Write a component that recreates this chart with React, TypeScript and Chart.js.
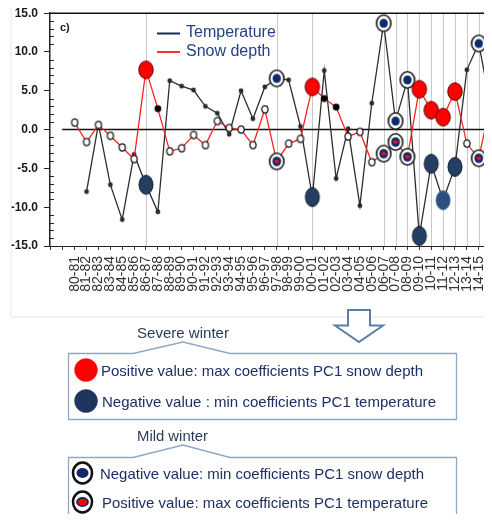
import React, { useEffect, useRef } from "react";
import { Chart, registerables } from "chart.js";

Chart.register(...registerables);

// ---------- data ----------
const seasons = [
  "80-81", "81-82", "82-83", "83-84", "84-85", "85-86", "86-87", "87-88", "88-89", "89-90",
  "90-91", "91-92", "92-93", "93-94", "94-95", "95-96", "96-97", "97-98", "98-99", "99-00",
  "00-01", "01-02", "02-03", "03-04", "04-05", "05-06", "06-07", "07-08", "08-09", "09-10",
  "10-11", "11-12", "12-13", "13-14", "14-15", "15-16",
];

const snowDepth = [
  0.9, -1.6, 0.6, -0.8, -2.3, -3.8, 7.7, 2.7, -2.8, -2.4,
  -0.7, -2.0, 1.1, 0.2, 0.0, -2.0, 2.6, -4.1, -1.8, -1.2,
  5.5, 4.0, 2.9, -0.9, -0.3, -4.2, -3.1, -1.6, -3.5, 5.2,
  2.5, 1.6, 4.9, -1.8, -3.7, 3.4,
];

const temperature = [
  null, -8.0, 0.7, -7.1, -11.6, -3.2, -7.1, -10.6, 6.3, 5.6,
  5.1, 3.0, 2.1, -0.6, 5.0, 1.4, 5.5, 6.6, 6.4, 0.4,
  -8.7, 7.6, -6.3, 0.1, -9.8, 3.4, 13.7, 1.1, 6.4, -13.7,
  -4.4, -9.1, -4.8, 7.7, 11.1, 3.0,
];

const severeSeasons = ["86-87", "00-01", "09-10", "10-11", "11-12", "12-13"];
const severeLightSeasons = ["11-12"];
const mildSeasons = ["97-98", "06-07", "07-08", "08-09", "14-15"];
const snowFilledSeasons = ["87-88", "01-02", "02-03"];
const gridSeasons = [
  "86-87", "97-98", "00-01", "06-07", "07-08", "08-09", "09-10",
  "10-11", "11-12", "12-13", "13-14", "14-15",
];

const yTicks = [
  -15, -14, -13, -12, -11, -10, -9, -8, -7, -6, -5, -4, -3, -2, -1, 0,
  1, 2, 3, 4, 5, 6, 7, 8, 9, 10, 11, 12, 13, 14, 15,
];
const yMajor = [-15, -10, -5, 0, 5, 10, 15];

const X_MIN = -2.075;
const X_MAX = 36.1;

// ---------- marker images ----------
function mk(w: number, h: number, draw: (g: CanvasRenderingContext2D, cx: number, cy: number) => void) {
  const c = document.createElement("canvas");
  c.width = w;
  c.height = h;
  const g = c.getContext("2d")!;
  draw(g, w / 2, h / 2);
  return c;
}
function ell(g: CanvasRenderingContext2D, cx: number, cy: number, rx: number, ry: number, fill?: string, stroke?: string, lw = 1) {
  g.beginPath();
  g.ellipse(cx, cy, rx, ry, 0, 0, Math.PI * 2);
  if (fill) { g.fillStyle = fill; g.fill(); }
  if (stroke) { g.strokeStyle = stroke; g.lineWidth = lw; g.stroke(); }
}

function buildMarkers() {
  return {
    open: mk(10, 11, (g, x, y) => ell(g, x, y, 3.1, 3.6, "#ffffff", "#1a1a1a", 1.3)),
    snowDot: mk(10, 10, (g, x, y) => ell(g, x, y, 3.4, 3.4, "#050505")),
    tempDot: mk(8, 8, (g, x, y) => ell(g, x, y, 2.4, 2.4, "#2b2b2b")),
    red: mk(18, 21, (g, x, y) => ell(g, x, y, 7.2, 8.8, "#ff0000", "#5a0000", 1)),
    blue: mk(18, 22, (g, x, y) => ell(g, x, y, 7.0, 9.4, "#243f63", "#111c30", 1)),
    blueLight: mk(18, 22, (g, x, y) => ell(g, x, y, 7.0, 9.4, "#2c4f7e", "#3f6592", 1)),
    mildSnow: mk(20, 22, (g, x, y) => {
      ell(g, x, y, 7.2, 8.2, "#ffffff", "#1a1a1a", 1.6);
      ell(g, x, y, 4.4, 4.8, "#0f2a6b");
      ell(g, x, y, 2.4, 1.8, "#ff1010");
    }),
    mildTemp: mk(20, 22, (g, x, y) => {
      ell(g, x, y, 7.2, 8.2, "#ffffff", "#1a1a1a", 1.6);
      ell(g, x, y, 4.2, 4.6, "#0f2a6b");
    }),
  };
}

const decorPlugin = {
  id: "decor",
  beforeDatasetsDraw(chart: any) {
    const { ctx, chartArea: a, scales } = chart;
    const x = scales.x;
    const y = scales.y;
    const line = (x1: number, y1: number, x2: number, y2: number) => {
      ctx.beginPath();
      ctx.moveTo(x1, y1);
      ctx.lineTo(x2, y2);
      ctx.stroke();
    };
    ctx.save();
    ctx.strokeStyle = "#c8c8c8";
    ctx.lineWidth = 1;
    gridSeasons.forEach((s) => {
      const px = Math.round(x.getPixelForValue(seasons.indexOf(s))) + 0.5;
      line(px, a.top, px, a.bottom);
    });
    ctx.strokeStyle = "#111111";
    ctx.lineWidth = 1.5;
    const y0 = y.getPixelForValue(0);
    line(x.getPixelForValue(-1.05), y0, a.right, y0);
    line(a.left, a.top, a.right, a.top);
    ctx.lineWidth = 1;
    ctx.strokeStyle = "#222222";
    yTicks.forEach((v) => {
      if (yMajor.includes(v)) return;
      const py = Math.round(y.getPixelForValue(v)) + 0.5;
      line(a.left, py, a.left + 4, py);
    });
    ctx.restore();
  },
  afterDraw(chart: any) {
    const { ctx } = chart;
    ctx.save();
    ctx.textBaseline = "middle";
    ctx.font = "bold 11px 'Liberation Sans'";
    ctx.fillStyle = "#1a1a1a";
    ctx.fillText("c)", 60, 28);
    ctx.lineWidth = 2;
    ctx.strokeStyle = "#142a5c";
    ctx.beginPath(); ctx.moveTo(157, 33.5); ctx.lineTo(180, 33.5); ctx.stroke();
    ctx.strokeStyle = "#ff2a2a";
    ctx.beginPath(); ctx.moveTo(157, 52); ctx.lineTo(180, 52); ctx.stroke();
    ctx.font = "16px 'Liberation Sans'";
    ctx.fillStyle = "#233f85";
    ctx.fillText("Temperature", 186, 33);
    ctx.fillText("Snow depth", 186, 52);
    ctx.restore();
  },
};

function ChartCanvas() {
  const ref = useRef<HTMLCanvasElement | null>(null);
  useEffect(() => {
    const m = buildMarkers();
    const snowStyles = seasons.map((s) => {
      if (severeSeasons.includes(s)) return m.red;
      if (mildSeasons.includes(s)) return m.mildSnow;
      if (snowFilledSeasons.includes(s)) return m.snowDot;
      return m.open;
    });
    const tempStyles = seasons.map((s) => {
      if (severeLightSeasons.includes(s)) return m.blueLight;
      if (severeSeasons.includes(s)) return m.blue;
      if (mildSeasons.includes(s)) return m.mildTemp;
      return m.tempDot;
    });
    const chart = new Chart(ref.current!, {
      type: "line",
      data: {
        datasets: [
          {
            label: "Snow depth",
            data: snowDepth.map((v, i) => ({ x: i, y: v })),
            borderColor: "#ff2020",
            borderWidth: 1.3,
            pointStyle: snowStyles as any,
            pointRadius: 5,
            tension: 0,
          },
          {
            label: "Temperature",
            data: temperature.map((v, i) => ({ x: i, y: v })) as any,
            borderColor: "#2e2e2e",
            borderWidth: 1.3,
            pointStyle: tempStyles as any,
            pointRadius: 5,
            tension: 0,
            spanGaps: false,
          },
        ],
      },
      options: {
        animation: false,
        responsive: false,
        devicePixelRatio: 1,
        layout: { padding: { top: 13, left: 0, right: 0, bottom: 0 } },
        plugins: { legend: { display: false }, tooltip: { enabled: false } },
        scales: {
          x: {
            type: "linear",
            min: X_MIN,
            max: X_MAX,
            afterBuildTicks: (s: any) => {
              const t = [];
              for (let i = -2; i < seasons.length; i++) t.push({ value: i });
              s.ticks = t;
            },
            afterFit: (s: any) => {
              s.height = 74;
              s.paddingLeft = 0;
              s.paddingRight = 0;
            },
            ticks: {
              autoSkip: false,
              minRotation: 90,
              maxRotation: 90,
              padding: 6,
              color: "#333333",
              font: { family: "'Liberation Sans'", size: 14 },
              callback: (v: any) => seasons[v as number] ?? "",
            },
            grid: { display: true, drawOnChartArea: false, tickLength: 4, color: "#333333" },
            border: { display: true, color: "#222222", width: 1 },
          },
          y: {
            type: "linear",
            min: -15,
            max: 15,
            afterBuildTicks: (s: any) => {
              s.ticks = yTicks.map((v) => ({ value: v }));
            },
            afterFit: (s: any) => {
              s.width = 50;
            },
            ticks: {
              autoSkip: false,
              padding: 6,
              color: "#1a1a1a",
              font: { family: "'Liberation Sans'", size: 12, weight: "bold" },
              callback: (v: any) => (yMajor.includes(v as number) ? (v as number).toFixed(1) : ""),
            },
            grid: {
              display: true,
              drawOnChartArea: false,
              tickLength: 6,
              color: (c: any) => (c.tick && yMajor.includes(c.tick.value) ? "#222222" : "rgba(0,0,0,0)"),
            },
            border: { display: true, color: "#222222", width: 1.5 },
          },
        },
      },
      plugins: [decorPlugin],
    });
    return () => chart.destroy();
  }, []);
  return (
    <canvas
      ref={ref}
      width={510}
      height={320}
      style={{ position: "absolute", left: 0, top: 0, width: 510, height: 320 }}
    />
  );
}

const navy = "#1f2f63";
const boxStroke = "#8ea7c7";
const font = "'Liberation Sans'";

function Annotations() {
  return (
    <svg
      width={492}
      height={522}
      style={{ position: "absolute", left: 0, top: 0, pointerEvents: "none" }}
    >
      {/* figure borders */}
      <path d="M11,0 V317 H492" fill="none" stroke="#e6e6e6" strokeWidth={1} />
      <path d="M0,83.5 H3.5 V411.5 H0" fill="none" stroke="#a9c1dc" strokeWidth={1.5} />
      {/* arrow */}
      <path
        d="M348,310 H370 V325.5 H383 L359,342 L335,325.5 H348 Z"
        fill="#ffffff"
        stroke="#5b7fa8"
        strokeWidth={2}
        strokeLinejoin="miter"
      />
      {/* severe box */}
      <text x={137} y={332} fontFamily={font} fontSize={15} fill="#2c3a58" dominantBaseline="central" textLength={92} lengthAdjust="spacingAndGlyphs">
        Severe winter
      </text>
      <path
        d="M68.5,353.5 H133 L183,342 L230,353.5 H456.5 V419.5 H68.5 Z"
        fill="#ffffff"
        stroke={boxStroke}
        strokeWidth={1.3}
      />
      <circle cx={86} cy={370} r={11.5} fill="#ff0000" stroke="#ff3030" strokeWidth={0.5} />
      <text x={101} y={370} fontFamily={font} fontSize={15} fill={navy} dominantBaseline="central" textLength={322} lengthAdjust="spacingAndGlyphs">
        Positive value: max coefficients PC1 snow depth
      </text>
      <circle cx={86} cy={401} r={11.5} fill="#1f3560" stroke="#2a4270" strokeWidth={0.5} />
      <text x={102} y={401} fontFamily={font} fontSize={15} fill={navy} dominantBaseline="central" textLength={334} lengthAdjust="spacingAndGlyphs">
        Negative value : min coefficients PC1 temperature
      </text>
      {/* mild box */}
      <text x={137} y={435} fontFamily={font} fontSize={15} fill="#2c3a58" dominantBaseline="central" textLength={71} lengthAdjust="spacingAndGlyphs">
        Mild winter
      </text>
      <path
        d="M68.5,457.5 H133 L183,445 L230,457.5 H456.5 V540 H68.5 Z"
        fill="#ffffff"
        stroke={boxStroke}
        strokeWidth={1.3}
      />
      <ellipse cx={82.5} cy={473} rx={9.5} ry={10.5} fill="#ffffff" stroke="#111111" strokeWidth={2.5} />
      <ellipse cx={82.5} cy={473} rx={6} ry={5} fill="#0f2a6b" />
      <text x={100} y={473} fontFamily={font} fontSize={15} fill={navy} dominantBaseline="central" textLength={324} lengthAdjust="spacingAndGlyphs">
        Negative value: min coefficients PC1 snow depth
      </text>
      <ellipse cx={82.5} cy={502} rx={9.5} ry={10.5} fill="#ffffff" stroke="#111111" strokeWidth={2.5} />
      <ellipse cx={82.5} cy={502} rx={5.5} ry={4} fill="#ff0000" stroke="#0f2a6b" strokeWidth={1.8} />
      <text x={102} y={502} fontFamily={font} fontSize={15} fill={navy} dominantBaseline="central" textLength={326} lengthAdjust="spacingAndGlyphs">
        Positive value: max coefficients PC1 temperature
      </text>
    </svg>
  );
}

export default function App() {
  return (
    <div
      style={{
        position: "relative",
        width: 492,
        height: 522,
        margin: -8,
        overflow: "hidden",
        background: "#ffffff",
      }}
    >
      <ChartCanvas />
      <Annotations />
    </div>
  );
}
